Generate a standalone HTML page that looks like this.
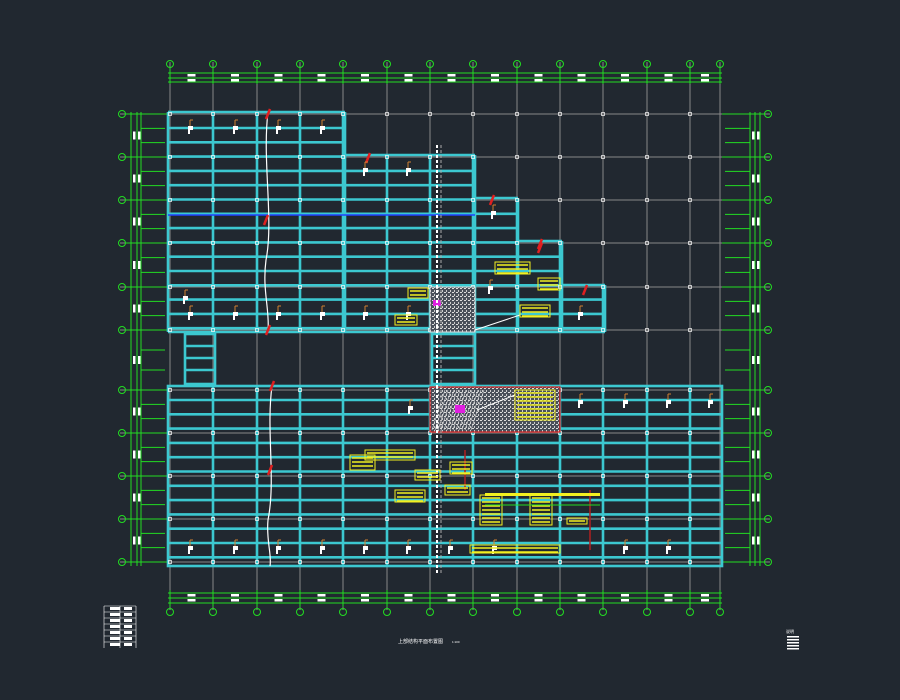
<!DOCTYPE html>
<html><head><meta charset="utf-8"><style>
html,body{margin:0;padding:0;background:#212830;width:900px;height:700px;overflow:hidden}
svg{display:block}
</style></head><body>
<svg id="s" width="900" height="700" xmlns="http://www.w3.org/2000/svg" font-family="Liberation Sans, sans-serif">
<defs>
<pattern id="dots" width="4" height="4" patternUnits="userSpaceOnUse"><rect width="4" height="4" fill="#4a505a"/><rect x="0" y="0" width="2" height="1" fill="#ddd"/><rect x="2" y="2" width="1" height="2" fill="#ccc"/></pattern>
</defs>
<rect width="900" height="700" fill="#212830"/>
<text x="398" y="643" font-size="5" fill="#fff">上部结构平面布置图</text>
<text x="452" y="643" font-size="3" fill="#fff">1:100</text>
<text x="786" y="633" font-size="4" fill="#fff">说明</text>
</svg>
<script>
const s=document.getElementById('s');const NS='http://www.w3.org/2000/svg';
function add(t,a){const e=document.createElementNS(NS,t);for(const k in a)e.setAttribute(k,a[k]);s.appendChild(e);return e;}
function L(x1,y1,x2,y2,c,w,extra){const a={x1,y1,x2,y2,stroke:c,'stroke-width':w||1};if(extra)Object.assign(a,extra);return add('line',a);}
function R(x,y,w,h,f,st,sw){return add('rect',{x,y,width:w,height:h,fill:f||'none',stroke:st||'none','stroke-width':sw||1});}
const X=[170,213,257,300,343,387,430,473,517,560,603,647,690,720];
const Y=[114,157,200,243,287,330,390,433,476,519,562];
const G='#888',GR='#22dd22',C='#3cc8d0',W='#fff',Yl='#f2f020',Rd='#e02020';
X.forEach(x=>L(x,62,x,610,G,1));
Y.forEach(y=>L(120,y,770,y,G,1));
[73,78,82].forEach(y=>L(168,y,722,y,GR,1));
[593,598,603].forEach(y=>L(168,y,722,y,GR,1));
[131,137,141].forEach(x=>L(x,112,x,566,GR,1));
[750,755,760].forEach(x=>L(x,112,x,566,GR,1));
X.forEach((x,i)=>{L(x,68,x,84,GR,1);L(x,590,x,607,GR,1);
 add('circle',{cx:x,cy:64,r:3.5,fill:'none',stroke:GR,'stroke-width':1});
 add('circle',{cx:x,cy:612,r:3.5,fill:'none',stroke:GR,'stroke-width':1});
 if(i<X.length-1){const m=(x+X[i+1])/2;R(m-4,74,8,2.5,W);R(m-4,79,8,2.5,W);R(m-4,594,8,2.5,W);R(m-4,599,8,2.5,W);}
});
Y.forEach((y,i)=>{L(125,y,168,y,GR,1);L(722,y,765,y,GR,1);
 add('circle',{cx:122,cy:y,r:3.5,fill:'none',stroke:GR,'stroke-width':1});
 add('circle',{cx:768,cy:y,r:3.5,fill:'none',stroke:GR,'stroke-width':1});
 if(i<Y.length-1){const m=(y+Y[i+1])/2;R(138,m-4,2.5,8,W);R(133,m-4,2.5,8,W);R(752,m-4,2.5,8,W);R(757,m-4,2.5,8,W);
  for(let k=1;k<3;k++){const yy=y+(Y[i+1]-y)*k/3;L(141,yy,165,yy,GR,1);L(725,yy,750,yy,GR,1);}}
});
function band(x1,y1,x2,y2){L(x1,y1,x2,y2,C,2.6);}
const steps=[[168,345,112],[345,475,155],[475,518,198],[518,562,241],[562,605,285]];
steps.forEach(([a,b,t])=>{band(a,t,b,t);band(b,t,b,332);});
band(168,112,168,332);band(168,332,605,332);
for(let y=128;y<332;y+=14.3){let xe=168;steps.forEach(([a,b,t])=>{if(y>t+2)xe=b;});band(168,y,xe,y);}
X.forEach(x=>{if(x<=170||x>605)return;let top=999;steps.forEach(([a,b,t])=>{if(x>=a-1&&x<=b+1)top=Math.min(top,t);});band(x,top,x,332);});
L(168,215,475,215,'#2040ff',1.5);
R(185,334,30,50,'none',C,2.6);[346,358,370].forEach(y=>band(185,y,215,y));
R(432,334,43,50,'none',C,2.6);[346,358,370].forEach(y=>band(432,y,475,y));
R(168,386,554,180,'none',C,2.6);
for(let y=400;y<566;y+=14.3)band(168,y,722,y);
X.forEach(x=>{if(x>170&&x<720)band(x,386,x,566);});
X.forEach(x=>Y.forEach(y=>{if(x<720)R(x-1.5,y-1.5,3,3,'none',W,0.7);}));
R(430,287,45,45,'url(#dots)','#ddd',1);
R(430,387,130,45,'url(#dots)',Rd,1.2);
for(let i=0;i<14;i++)L(432+i*3,430,445+i*3,390,'#ddd',0.6);
L(475,330,520,315,W,1);L(477,410,515,395,W,1);
add('rect',{x:455,y:405,width:10,height:8,fill:'#e020e0'});add('rect',{x:433,y:300,width:8,height:6,fill:'#e020e0'});
L(437,145,437,575,W,2,{'stroke-dasharray':'3,2'});
L(441,145,441,575,'#aaa',1,{'stroke-dasharray':'3,2'});
add('path',{d:'M268,112 C262,160 274,220 266,260 C262,290 270,310 268,332',stroke:W,fill:'none','stroke-width':1.2});
add('path',{d:'M272,386 C266,430 276,480 268,520 C266,540 272,555 270,566',stroke:W,fill:'none','stroke-width':1.2});
[[268,114],[368,158],[492,200],[540,244],[585,290],[266,220],[268,330],[272,386],[270,470],[540,248]].forEach(([x,y])=>add('path',{d:`M${x-2},${y+5} L${x+2},${y-5}`,stroke:Rd,'stroke-width':2.5}));
L(590,490,590,550,'#b02020',1.5);L(465,450,465,490,'#b02020',1.5);
const marks=[[190,130],[235,130],[278,130],[322,130],[365,172],[408,172],[493,215],[190,316],[235,316],[278,316],[322,316],[365,316],[408,316],[580,316],[580,404],[625,404],[668,404],[710,404],[190,550],[235,550],[278,550],[322,550],[365,550],[408,550],[450,550],[494,550],[625,550],[668,550],[410,410],[185,300],[490,290]];
marks.forEach(([x,y])=>{R(x-2,y-4,2,8,W);R(x,y-4,3,4,W);L(x,y-10,x,y-4,'#d08030',1);L(x,y-10,x+3,y-10,'#d08030',1);});
function yel(x,y,w,h){R(x,y,w,h,'none',Yl,1);for(let yy=y+3;yy<y+h;yy+=4)L(x+2,yy,x+w-2,yy,Yl,1.5);}
yel(395,315,22,10);yel(408,288,20,10);yel(520,305,30,12);yel(538,278,22,12);yel(495,262,35,12);
yel(350,455,25,15);yel(365,450,50,10);yel(395,490,30,12);yel(445,485,25,10);yel(450,462,22,12);yel(415,470,25,10);
yel(480,495,22,30);yel(530,495,22,30);yel(470,545,90,8);yel(567,518,20,6);yel(515,390,40,30);
R(485,493,115,3,Yl);L(485,505,600,505,GR,1);
for(let i=0;i<7;i++){L(104,606+i*6,136,606+i*6,W,0.6);R(110,607+i*6,10,3,W);R(124,607+i*6,8,3,W);}
L(104,606,104,648,W,0.6);L(120,606,120,648,W,0.6);L(136,606,136,648,W,0.6);
for(let i=0;i<5;i++)R(787,636+i*3,12,1.5,W);
</script>
</body></html>
